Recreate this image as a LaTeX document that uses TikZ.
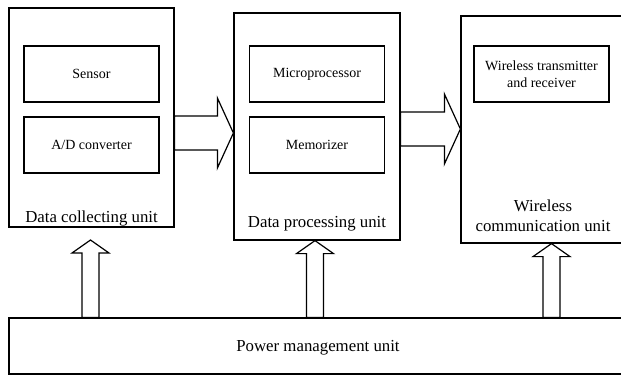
\documentclass[tikz,border=0pt]{standalone}
\usepackage{fontspec}
\setmainfont{Liberation Serif}
\usetikzlibrary{calc}

\tikzset{
  unitbox/.style={draw, line width=1.2pt, inner sep=0pt},
  partbox/.style={draw, line width=1.2pt, inner sep=0pt, minimum width=135pt, minimum height=56pt,
    align=center, font=\fontsize{14}{17}\selectfont},
  unitname/.style={anchor=base, align=center, font=\fontsize{16.8}{19.5}\selectfont},
  fat/.style={draw, fill=white, line width=1.2pt, line join=miter}
}

% hollow block arrow: shaft half width, head half width, head length, from, to
\newcommand\fatarrow[5]{%
  \draw[fat] ($(#4)!#1!90:(#5)$) -- ($(#5)!#3!(#4)!#1!90:(#5)$) -- ($(#5)!#3!(#4)!#2!90:(#5)$)
    -- (#5) -- ($(#5)!#3!(#4)!#2!-90:(#5)$) -- ($(#5)!#3!(#4)!#1!-90:(#5)$) -- ($(#4)!#1!-90:(#5)$) -- cycle;}

\begin{document}
\begin{tikzpicture}[x=1pt,y=-1pt]

\clip (0,0) rectangle (621,376);

\node[unitbox, minimum width=165pt, minimum height=219pt] (collect) at (91.5,117.5) {};
\node[unitbox, minimum width=166pt, minimum height=227pt] (process) at (317,126.5) {};
\node[unitbox, minimum width=164pt, minimum height=227pt] (wireless) at (543,129.5) {};
\node[unitbox, minimum width=618pt, minimum height=56pt, text depth=0pt, font=\fontsize{16.8}{19.5}\selectfont] (power) at (318,346) {Power management unit};

\node[partbox] (sensor) at (91.5,74) {Sensor};
\node[partbox] (adc) at (91.5,145) {A/D converter};
\node[partbox] (micro) at (317,74) {Microprocessor};
\node[partbox] (memo) at (317,145) {Memorizer};
\node[partbox] (trx) at (541.5,74) {Wireless transmitter\\and receiver};

\node[unitname] (collectname) at (91.5,222) {Data collecting unit};
\node[unitname] (processname) at (317,227) {Data processing unit};
\node[unitname] (wirelessname) at (543,231) {Wireless\\communication unit};

% data flow
\coordinate (s1) at (collect.east |- 0,133);
\coordinate (t1) at (process.west |- 0,133);
\coordinate (s2) at (process.east |- 0,129);
\coordinate (t2) at (wireless.west |- 0,129);
\fatarrow{17pt}{35pt}{16pt}{s1}{t1}
\fatarrow{17pt}{35pt}{16pt}{s2}{t2}

% power supply
\coordinate (p1) at (power.north -| 90.5,0);
\coordinate (q1) at (90.5,240);
\coordinate (p2) at (power.north -| 315,0);
\coordinate (q2) at (process.south -| 315,0);
\coordinate (p3) at (power.north -| 551.5,0);
\coordinate (q3) at (wireless.south -| 551.5,0);
\fatarrow{8.5pt}{18.5pt}{13pt}{p1}{q1}
\fatarrow{8.5pt}{18.5pt}{13pt}{p2}{q2}
\fatarrow{8.5pt}{18.5pt}{13pt}{p3}{q3}

\end{tikzpicture}
\end{document}
